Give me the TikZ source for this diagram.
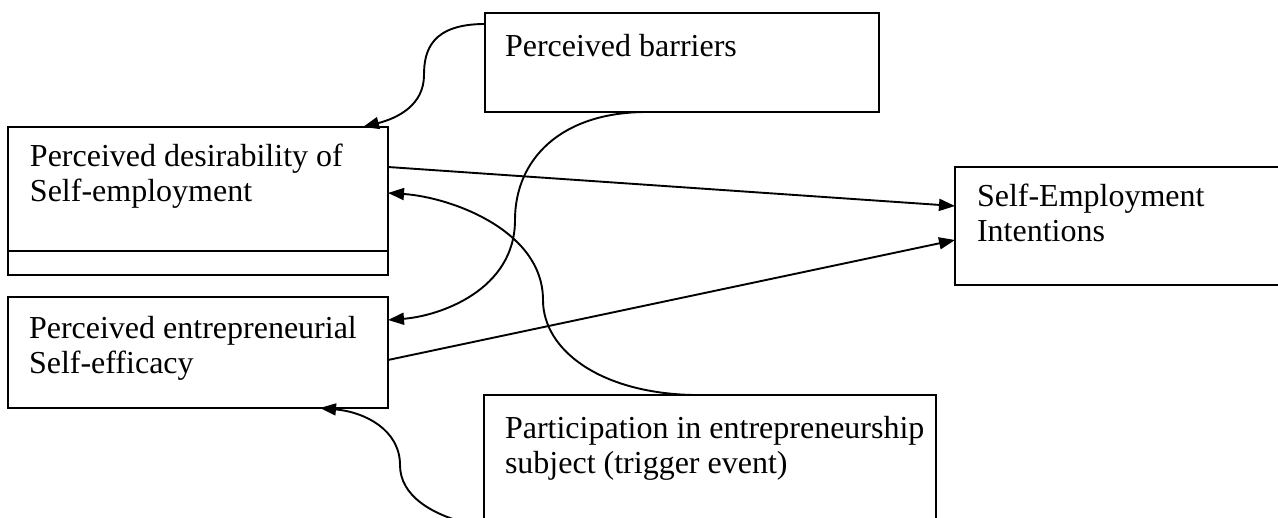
\documentclass[tikz,border=0pt]{standalone}
\usepackage{fontspec}
\setmainfont{Liberation Serif}
\usetikzlibrary{arrows.meta,calc}
\tikzset{
  boxnode/.style={draw, line width=2pt, rectangle, anchor=north west, inner sep=0pt, outer sep=0pt},
  boxtext/.style={anchor=north west, inner sep=0pt, outer sep=0pt, align=left,
    font=\fontsize{32}{35}\selectfont},
  arr/.style={line width=1.9pt, -{Triangle[length=16pt,width=12pt]}},
}
\begin{document}
\begin{tikzpicture}[x=1pt,y=-1pt]
\useasboundingbox (0,0) rectangle (1278,518);
\clip (0,0) rectangle (1278,518);
% boxes
\node[boxnode, minimum width=394pt, minimum height=99pt] (bar) at (485,13) {};
\node[boxnode, minimum width=380pt, minimum height=148pt] (des) at (8,127) {};
\node[boxnode, minimum width=380pt, minimum height=111pt] (eff) at (8,297) {};
\node[boxnode, minimum width=340pt, minimum height=118pt] (int) at (955,167) {};
\node[boxnode, minimum width=452pt, minimum height=140pt] (par) at (484,395) {};
\draw[line width=2pt] ($(des.north west)+(0,124)$) -- ($(des.north east)+(0,124)$);
% texts
\node[boxtext] (bart) at ($(bar.north west)+(20,21)$) {Perceived barriers};
\node[boxtext] (dest) at ($(des.north west)+(22,17)$) {Perceived desirability of\\Self-employment};
\node[boxtext] (efft) at ($(eff.north west)+(21,19)$) {Perceived entrepreneurial\\Self-efficacy};
\node[boxtext] (intt) at ($(int.north west)+(22,17)$) {Self-Employment\\Intentions};
\node[boxtext] (part) at ($(par.north west)+(21,21)$) {Participation in entrepreneurship\\subject (trigger event)};
% straight connectors
\draw[arr] ($(des.north east)+(0,40)$) -- ($(int.north west)+(0,39)$);
\draw[arr] ($(eff.north east)+(0,63)$) -- ($(int.north west)+(0,73)$);
% curved connectors
\draw[arr] ($(bar.north west)+(0,11)$) .. controls (432,24) and (424,50) .. (424,75)
  .. controls (424,105) and (398,118) .. ($(des.north west)+(355,0)$);
\draw[arr] ($(bar.south west)+(162,0)$) .. controls (560,112) and (515,160) .. (515,220)
  .. controls (515,290) and (440,316) .. ($(eff.north east)+(0,23)$);
\draw[arr] ($(par.north west)+(209,0)$) .. controls (600,393) and (543,350) .. (543,300)
  .. controls (543,230) and (450,197) .. ($(des.north east)+(0,66)$);
\draw[arr] ($(par.south west)+(-10,-10)$) .. controls (430,515) and (400,495) .. (400,465)
  .. controls (400,430) and (365,412) .. ($(eff.south west)+(312,0)$);
\end{tikzpicture}
\end{document}
